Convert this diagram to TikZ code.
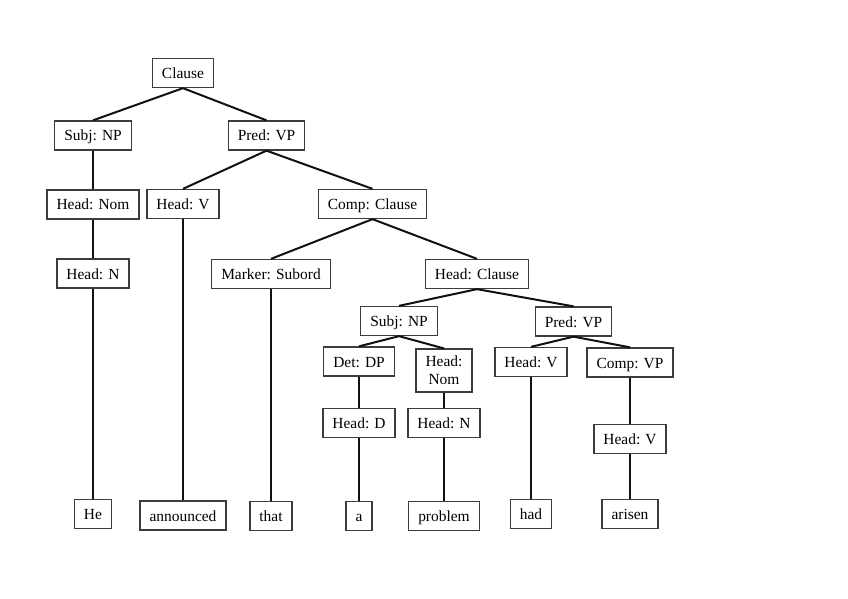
\documentclass[tikz,border=0pt]{standalone}
\usepackage{fontspec}
\setmainfont{Liberation Serif}
\usepackage{tikz}
\usetikzlibrary{positioning}
\usepackage{xcolor}
\definecolor{boxline}{HTML}{3C3C3C}
\definecolor{branch}{HTML}{111111}

\begin{document}
\begin{tikzpicture}[
    x=1bp, y=-1bp,
    box/.style={
        rectangle, draw=boxline, line width=1.3bp, fill=white,
        inner xsep=9.5bp, inner ysep=7bp, text height=13bp, text depth=2bp,
        font=\fontsize{15.5}{18}\selectfont, align=center
    },
    twoline/.style={
        rectangle, draw=boxline, line width=1.3bp, fill=white,
        inner xsep=9.5bp, inner ysep=7bp,
        font=\fontsize{15.5}{18}\selectfont, align=center
    },
    edge/.style={line width=2bp, branch},
]
\useasboundingbox (0,0) rectangle (848,599);

% Top levels
\node[box] (clause) at (183,73) {Clause};
\node[box] (subj_np) at (93,135.5) {Subj: NP};
\node[box] (pred_vp) at (266.5,135.5) {Pred: VP};
\node[box] (head_nom) at (93,204.5) {Head: Nom};
\node[box] (head_v) at (183,204) {Head: V};
\node[box] (comp_clause) at (372.5,204) {Comp: Clause};
\node[box] (head_n) at (93,273.5) {Head: N};
\node[box] (marker) at (271,274) {Marker: Subord};
\node[box] (head_clause) at (477,274) {Head: Clause};

% Embedded clause
\node[box] (subj_np2) at (399,321) {Subj: NP};
\node[box] (pred_vp2) at (573.5,321.5) {Pred: VP};
\node[box] (det_dp) at (359,361.5) {Det: DP};
\node[twoline] (head_nom2) at (444,370.5) {Head:\\Nom};
\node[box] (head_v2) at (531,362) {Head: V};
\node[box] (comp_vp) at (630,362.5) {Comp: VP};
\node[box] (head_d) at (359,423) {Head: D};
\node[box] (head_n2) at (444,423) {Head: N};
\node[box] (head_v3) at (630,439) {Head: V};

% Words
\node[box] (w_he) at (93,514) {He};
\node[box] (w_announced) at (183,515.5) {announced};
\node[box] (w_that) at (271,516) {that};
\node[box] (w_a) at (359,516) {a};
\node[box] (w_problem) at (444,516) {problem};
\node[box] (w_had) at (531,514) {had};
\node[box] (w_arisen) at (630,514) {arisen};

% Branches
\draw[edge] (clause.south) -- (subj_np.north) (clause.south) -- (pred_vp.north);
\draw[edge] (subj_np.south) -- (head_nom.north);
\draw[edge] (head_nom.south) -- (head_n.north);
\draw[edge] (head_n.south) -- (w_he.north);
\draw[edge] (pred_vp.south) -- (head_v.north) (pred_vp.south) -- (comp_clause.north);
\draw[edge] (head_v.south) -- (w_announced.north);
\draw[edge] (comp_clause.south) -- (marker.north) (comp_clause.south) -- (head_clause.north);
\draw[edge] (marker.south) -- (w_that.north);
\draw[edge] (head_clause.south) -- (subj_np2.north) (head_clause.south) -- (pred_vp2.north);
\draw[edge] (subj_np2.south) -- (det_dp.north) (subj_np2.south) -- (head_nom2.north);
\draw[edge] (det_dp.south) -- (head_d.north);
\draw[edge] (head_d.south) -- (w_a.north);
\draw[edge] (head_nom2.south) -- (head_n2.north);
\draw[edge] (head_n2.south) -- (w_problem.north);
\draw[edge] (pred_vp2.south) -- (head_v2.north) (pred_vp2.south) -- (comp_vp.north);
\draw[edge] (head_v2.south) -- (w_had.north);
\draw[edge] (comp_vp.south) -- (head_v3.north);
\draw[edge] (head_v3.south) -- (w_arisen.north);

\end{tikzpicture}
\end{document}
